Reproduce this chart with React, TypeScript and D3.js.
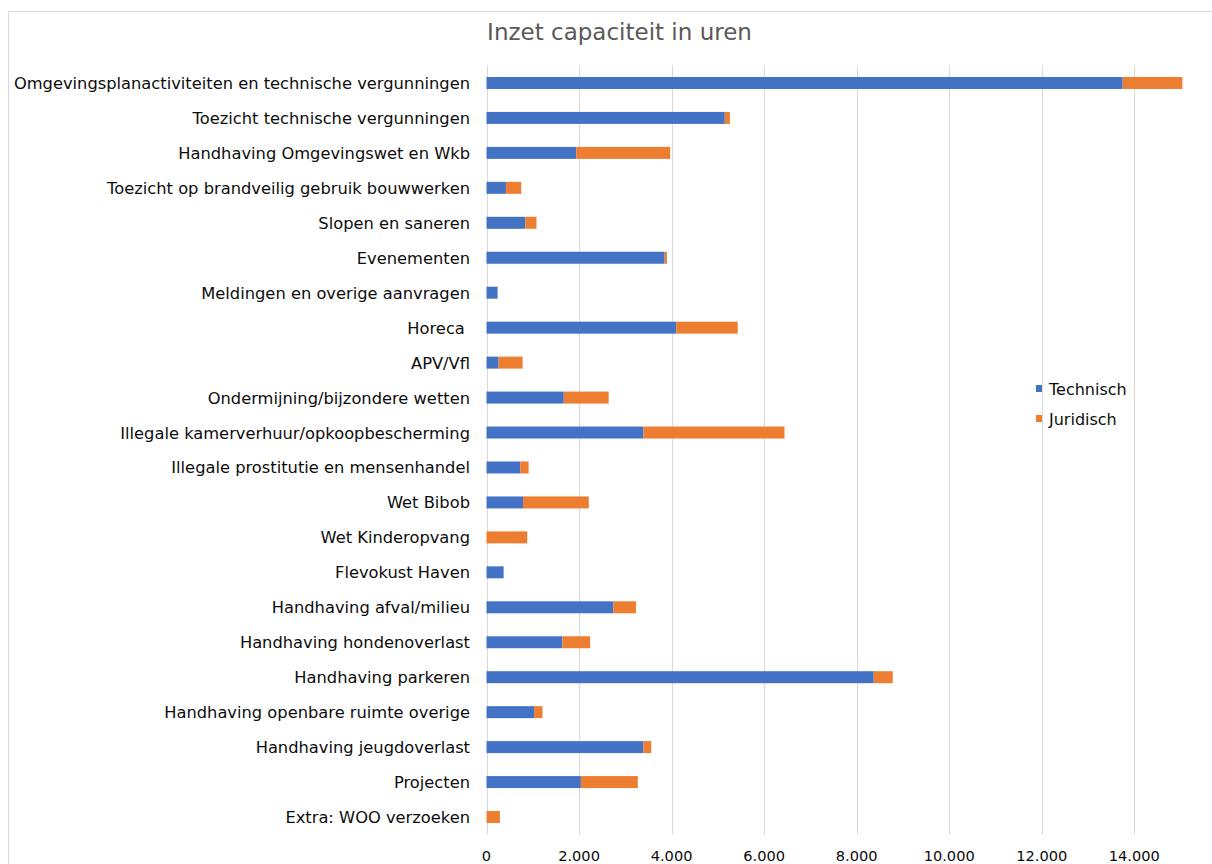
import { useMemo } from "react"
import * as d3 from "d3"

const categories = [
  "Omgevingsplanactiviteiten en technische vergunningen",
  "Toezicht technische vergunningen",
  "Handhaving Omgevingswet en Wkb",
  "Toezicht op brandveilig gebruik bouwwerken",
  "Slopen en saneren",
  "Evenementen",
  "Meldingen en overige aanvragen",
  "Horeca ",
  "APV/Vfl",
  "Ondermijning/bijzondere wetten",
  "Illegale kamerverhuur/opkoopbescherming",
  "Illegale prostitutie en mensenhandel",
  "Wet Bibob",
  "Wet Kinderopvang",
  "Flevokust Haven",
  "Handhaving afval/milieu",
  "Handhaving hondenoverlast",
  "Handhaving parkeren",
  "Handhaving openbare ruimte overige",
  "Handhaving jeugdoverlast",
  "Projecten",
  "Extra: WOO verzoeken",
]

const technisch = [13750, 5150, 1940, 420, 840, 3850, 240, 4100, 260, 1670, 3390, 730, 790, 0, 370, 2740, 1640, 8370, 1030, 3390, 2040, 0]
const juridisch = [1290, 110, 2030, 330, 240, 50, 0, 1330, 520, 970, 3050, 180, 1420, 880, 0, 490, 600, 410, 180, 170, 1230, 290]

const seriesNames = ["Technisch", "Juridisch"]
const colors = ["#4472C4", "#ED7D31"]
// the 16.000 gridline falls just outside the visible frame
const xTicks = [0, 2000, 4000, 6000, 8000, 10000, 12000, 14000]

const title = "Inzet capaciteit in uren"
const font = "'DejaVu Sans', Verdana, sans-serif"

export default function App() {
  const width = 1212
  const height = 864
  const plot = { left: 486.5, right: 1226.8, top: 65.5, bottom: 834.5 }

  const rows = useMemo(
    () => categories.map((c, i) => ({ cat: c, Technisch: technisch[i], Juridisch: juridisch[i] })),
    [],
  )

  const stacked = useMemo(() => d3.stack<any>().keys(seriesNames)(rows), [rows])

  const x = d3.scaleLinear().domain([0, 16000]).range([plot.left, plot.right])
  const y = d3
    .scaleBand<string>()
    .domain(categories)
    .range([plot.top, plot.bottom])
    .paddingInner(0.657)
    .paddingOuter(0.657 / 2)

  const fmt = (v: number) => d3.format(",")(v).replace(/,/g, ".")

  return (
    <svg
      width={width}
      height={height}
      style={{ position: "absolute", left: 0, top: 0, overflow: "hidden", background: "#fff" }}
      fontFamily={font}
    >
      <rect x={8.5} y={11.5} width={1260} height={900} fill="#fff" stroke="#d9d9d9" strokeWidth={1} />

      <text x={619.5} y={40} textAnchor="middle" fontSize={23} fill="#595959">
        {title}
      </text>

      {/* gridlines */}
      {xTicks.map((t) => (
        <line
          key={t}
          x1={Math.round(x(t)) + 0.5}
          x2={Math.round(x(t)) + 0.5}
          y1={plot.top}
          y2={plot.bottom}
          stroke="#d9d9d9"
          strokeWidth={1}
        />
      ))}

      {/* bars */}
      {stacked.map((s, si) => (
        <g key={s.key} fill={colors[si]}>
          {s.map((d, i) => (
            <rect
              key={i}
              x={x(d[0])}
              y={y(categories[i])}
              width={Math.max(0, x(d[1]) - x(d[0]))}
              height={y.bandwidth()}
            />
          ))}
        </g>
      ))}

      {/* category labels */}
      {categories.map((c) => (
        <text
          key={c}
          x={470}
          y={(y(c) ?? 0) + y.bandwidth() / 2 + 6}
          textAnchor="end"
          fontSize={16.3}
          fill="#0d0d0d"
          style={{ whiteSpace: "pre" }}
        >
          {c}
        </text>
      ))}

      {/* x tick labels */}
      {xTicks.map((t) => (
        <text key={t} x={x(t)} y={861} textAnchor="middle" fontSize={14.6} fill="#0d0d0d">
          {fmt(t)}
        </text>
      ))}

      {/* legend */}
      {seriesNames.map((n, i) => (
        <g key={n} transform={`translate(1036, ${389 + i * 30})`}>
          <rect x={0} y={-4} width={6} height={7} fill={colors[i]} />
          <text x={13} y={6} fontSize={16} fill="#0d0d0d">
            {n}
          </text>
        </g>
      ))}
    </svg>
  )
}
